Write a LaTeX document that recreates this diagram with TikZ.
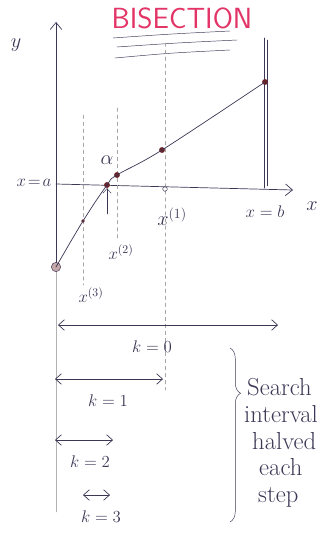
\documentclass[tikz,border=0pt]{standalone}
\usepackage{amsmath}
\usetikzlibrary{arrows.meta,decorations.pathreplacing}
\definecolor{ink}{RGB}{60,55,85}
\definecolor{titlered}{RGB}{226,52,102}
\definecolor{dotred}{RGB}{105,35,40}
\tikzset{
  guide/.style={dashed,gray!70,thin},
  span/.style={{Straight Barb[length=5pt,width=9pt]}-{Straight Barb[length=5pt,width=9pt]},ink,semithick},
  pt/.style={circle,fill=dotred,inner sep=0pt,minimum size=5pt},
  note/.style={font=\fontsize{21}{26}\selectfont,anchor=west,inner sep=0pt},
}
\begin{document}
\begin{tikzpicture}[x=0.03cm,y=-0.03cm,line cap=round,ink]
\useasboundingbox (0,0) rectangle (322,534);
% title
\node[titlered,font=\Huge\sffamily] (title) at (182,18) {BISECTION};
\draw (113,38) .. controls (170,34) .. (230,31);
\draw (117,47) .. controls (175,43) .. (237,40);
\draw (115,58) .. controls (170,53) .. (230,50);
% axes
\coordinate (ytop) at (56,22);
\coordinate (ybot) at (56,512);
\coordinate (xend) at (293,190);
\coordinate (o) at (56,184);
\draw[semithick,-{Straight Barb[length=6pt,width=10pt]}] (56,270) -- (ytop);
\draw[gray!60] (56,270) -- (ybot);
\draw[semithick,-{Straight Barb[length=6pt,width=10pt]}] (o) -- (xend);
\node[font=\LARGE] (ylab) at (16,45) {$y$};
\node[font=\LARGE] (xlab) at (312,206) {$x$};
\node[font=\Large] (alab) at (34,183) {$x\!=\!a$};
\node[font=\Large] (blab) at (265,212) {$x=b$};
% guide lines
\draw[guide] (83,115) -- (83,285);
\draw[guide] (117,108) -- (117,240);
\draw[guide] (165,43) -- (165,390);
\draw[semithick] (264,38) -- (264,188);
\draw (267,40) -- (267,186);
% curve
\node[pt,minimum size=3pt] (f3) at (83,221) {};
\node[pt] (root) at (107,185) {};
\node[pt] (f2) at (117,175) {};
\node[pt] (f1) at (162,150) {};
\node[pt] (fb) at (265,82) {};
\node[circle,draw,fill=dotred!40,inner sep=0pt,minimum size=8pt] (fa) at (56,267) {};
\draw[semithick] plot[smooth,tension=0.6] coordinates {(fa.center) (f3.center) (root.center) (f2.center) (f1.center) (fb.center)};
\node[circle,draw,inner sep=0pt,minimum size=4pt] (m1) at (165,189) {};
\node[font=\LARGE] (alpha) at (107,160) {$\alpha$};
\coordinate (rootarrow) at (107,214);
\draw[-{Straight Barb[length=4pt,width=7pt]}] (rootarrow) -- (root);
\node[font=\LARGE] (x1) at (172,217) {$x^{(1)}$};
\node[font=\Large] (x2) at (121,252) {$x^{(2)}$};
\node[font=\Large] (x3) at (91,295) {$x^{(3)}$};
% search intervals
\foreach \k/\l/\r/\y/\lx in {0/58/278/325/152,1/55/163/379/108,2/55/113/440/90,3/83/110/495/101}{
  \coordinate (k\k l) at (\l,\y);
  \coordinate (k\k r) at (\r,\y);
  \draw[span] (k\k l) -- (k\k r);
  \node[font=\Large] (klab\k) at (\lx,\y+22) {$k=\k$};}
\draw[decorate,decoration={brace,amplitude=9pt,aspect=0.26}] (230,348) -- (230,522);
\foreach \w/\x/\y in {Search/247/389,interval/244/416,halved/252/443,each/259/469,step/258/496}{
  \node[note] (note\w) at (\x,\y) {\strut\w};}
\end{tikzpicture}
\end{document}
